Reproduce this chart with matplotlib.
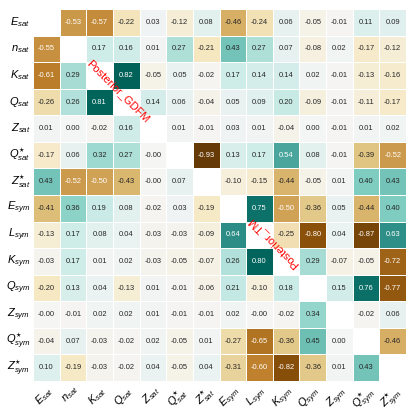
import numpy as np
import matplotlib
matplotlib.use("Agg")
import matplotlib.pyplot as plt
import seaborn as sns

plt.rcParams['font.family'] = ['Liberation Sans', 'DejaVu Sans']
plt.rcParams['mathtext.fontset'] = 'custom'
plt.rcParams['mathtext.rm'] = 'Liberation Sans'
plt.rcParams['mathtext.it'] = 'Liberation Sans:italic'
plt.rcParams['mathtext.bf'] = 'Liberation Sans:bold'

labels = [r"$E_{sat}$", r"$n_{sat}$", r"$K_{sat}$", r"$Q_{sat}$", r"$Z_{sat}$",
          r"$Q^{\star}_{sat}$", r"$Z^{\star}_{sat}$", r"$E_{sym}$", r"$L_{sym}$",
          r"$K_{sym}$", r"$Q_{sym}$", r"$Z_{sym}$", r"$Q^{\star}_{sym}$", r"$Z^{\star}_{sym}$"]

nan = np.nan
row_Esat = [nan, -0.53, -0.57, -0.22, 0.03, -0.12, 0.08, -0.46, -0.24, 0.06, -0.05, -0.01, 0.11, 0.09]
row_nsat = [-0.55, nan, 0.17, 0.16, 0.01, 0.27, -0.21, 0.43, 0.27, 0.07, -0.08, 0.02, -0.17, -0.12]
row_Ksat = [-0.61, 0.29, nan, 0.82, -0.05, 0.05, -0.02, 0.17, 0.14, 0.14, 0.02, -0.01, -0.13, -0.16]
row_Qsat = [-0.26, 0.26, 0.81, nan, 0.14, 0.06, -0.04, 0.05, 0.09, 0.20, -0.09, -0.01, -0.11, -0.17]
row_Zsat = [0.01, 0.00, -0.02, 0.16, nan, 0.01, -0.01, 0.03, 0.01, -0.04, 0.00, -0.01, 0.01, 0.02]
row_Qssat = [-0.17, 0.06, 0.32, 0.27, -0.001, nan, -0.93, 0.13, 0.17, 0.54, 0.08, -0.01, -0.39, -0.52]
row_Zssat = [0.43, -0.52, -0.50, -0.43, -0.001, 0.07, nan, -0.10, -0.15, -0.44, -0.05, 0.01, 0.40, 0.43]
row_Esym = [-0.41, 0.36, 0.19, 0.08, -0.02, 0.03, -0.19, nan, 0.75, -0.50, -0.36, 0.05, -0.44, 0.40]
row_Lsym = [-0.13, 0.17, 0.08, 0.04, -0.03, -0.03, -0.09, 0.64, nan, -0.25, -0.80, 0.04, -0.87, 0.63]
row_Ksym = [-0.03, 0.17, 0.01, 0.02, -0.03, -0.05, -0.07, 0.26, 0.80, nan, 0.29, -0.07, -0.05, -0.72]
row_Qsym = [-0.20, 0.13, 0.04, -0.13, 0.01, -0.01, -0.06, 0.21, -0.10, 0.18, nan, 0.15, 0.76, -0.77]
row_Zsym = [-0.001, -0.01, 0.02, 0.02, 0.01, -0.01, -0.01, 0.02, -0.001, -0.02, 0.34, nan, -0.02, 0.06]
row_Qssym = [-0.04, 0.07, -0.03, -0.02, 0.02, -0.05, 0.01, -0.27, -0.65, -0.36, 0.45, 0.00, nan, -0.46]
row_Zssym = [0.10, -0.19, -0.03, -0.02, 0.04, -0.05, 0.04, -0.31, -0.60, -0.82, -0.36, 0.01, 0.43, nan]

corr = np.array([row_Esat, row_nsat, row_Ksat, row_Qsat, row_Zsat, row_Qssat, row_Zssat,
                 row_Esym, row_Lsym, row_Ksym, row_Qsym, row_Zsym, row_Qssym, row_Zssym])

fig = plt.figure(figsize=(4.15, 4.15), dpi=100)
ax = fig.add_axes([33/415, 1 - 381/415, 373/415, 372/415])
sns.heatmap(corr, ax=ax, cmap="BrBG", vmin=-1, vmax=1, annot=True, fmt=".2f",
            annot_kws={"fontsize": 5.4}, linewidths=0.5, linecolor="white",
            cbar=False, square=False, xticklabels=labels, yticklabels=labels)
ax.tick_params(length=0, pad=2)
ax.set_yticklabels(labels, rotation=0, fontsize=8)
ax.set_xticklabels(labels, rotation=45, ha='right', rotation_mode='anchor', fontsize=8)

ax.text(3.2, 3.1, "Posterior_GDFM", color="red", rotation=-45, fontsize=8,
        ha='center', va='center', rotation_mode='anchor')
ax.text(9.0, 8.8, "Posterior_TM", color="red", rotation=135, fontsize=8,
        ha='center', va='center', rotation_mode='anchor')

fig.savefig("out.png", dpi=100)
